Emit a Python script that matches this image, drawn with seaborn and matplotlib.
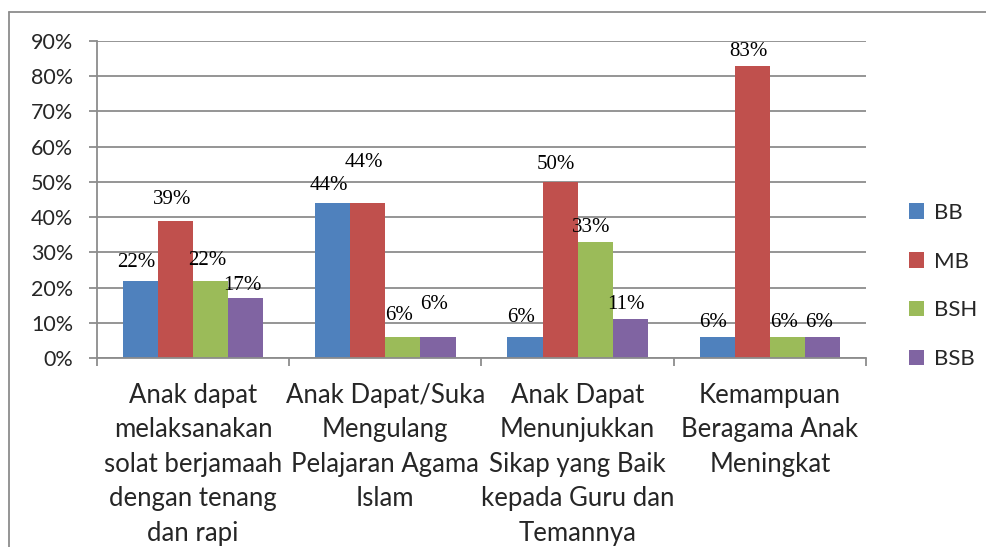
import matplotlib
matplotlib.use("Agg")
import matplotlib.pyplot as plt
import seaborn as sns
import pandas as pd
from matplotlib.patches import Patch
from matplotlib.lines import Line2D

categories = [
    "Anak dapat\nmelaksanakan\nsolat berjamaah\ndengan tenang\ndan rapi",
    "Anak Dapat/Suka\nMengulang\nPelajaran Agama\nIslam",
    "Anak Dapat\nMenunjukkan\nSikap yang Baik\nkepada Guru dan\nTemannya",
    "Kemampuan\nBeragama Anak\nMeningkat",
]
series = ["BB", "MB", "BSH", "BSB"]
BB = [22, 44, 6, 6]
MB = [39, 44, 50, 83]
BSH = [22, 6, 33, 6]
BSB = [17, 6, 11, 6]
yticks = [0, 10, 20, 30, 40, 50, 60, 70, 80, 90]

colors = ["#4F81BD", "#C0504D", "#9BBB59", "#8064A2"]
# label offsets above bar top (px), per series then category
label_offsets = {
    "BB": [18, 18, 19, 14],
    "MB": [21, 41, 17, 14],
    "BSH": [20, 21, 14, 14],
    "BSB": [13, 32, 15, 14],
}

values = {"BB": BB, "MB": MB, "BSH": BSH, "BSB": BSB}
rows = []
for s in series:
    for c, v in zip(categories, values[s]):
        rows.append({"cat": c, "series": s, "val": v})
df = pd.DataFrame(rows)

sns.set_theme(style="white")
plt.rcParams["font.family"] = ["Lato", "DejaVu Sans"]

W, H = 987, 547
fig = plt.figure(figsize=(W / 100, H / 100), dpi=100)
ax = fig.add_axes([97 / W, 1 - 358 / H, (866 - 97) / W, (358 - 41) / H])

sns.barplot(data=df, x="cat", y="val", hue="series", palette=colors,
            order=categories, hue_order=series, width=0.73, linewidth=0,
            ax=ax, legend=False, saturation=1)

ax.set_ylim(0, 90)
ax.set_xlim(-0.5, 3.5)
ax.set_yticks(yticks)
ax.set_yticklabels([f"{t}%" for t in yticks], fontsize=15.5)
ax.yaxis.grid(True, color="#8C8C8C", linewidth=1.3)
ax.set_axisbelow(True)
ax.set_xlabel("")
ax.set_ylabel("")
for s in ["top", "right"]:
    ax.spines[s].set_visible(False)
for s in ["left", "bottom"]:
    ax.spines[s].set_color("#8C8C8C")
    ax.spines[s].set_linewidth(1.3)
ax.tick_params(axis="y", length=6, width=1.3, color="#8C8C8C", pad=11, left=True)
ax.set_xticks(range(4))
ax.set_xticklabels(categories, fontsize=18.5, linespacing=1.47)
ax.set_xticks([-0.5, 0.5, 1.5, 2.5, 3.5], minor=True)
ax.tick_params(axis="x", which="major", length=0, pad=18)
ax.tick_params(axis="x", which="minor", length=6, width=1.3, color="#8C8C8C", bottom=True)

# data labels
px_per_unit = (358 - 41) / 90.0
for cont, s in zip(ax.containers, series):
    for i, (bar, v) in enumerate(zip(cont, values[s])):
        off = label_offsets[s][i] / px_per_unit
        ax.text(bar.get_x() + bar.get_width() / 2 - 0.02, v + off, f"{v}%",
                ha="center", va="center", fontsize=15,
                family=["Liberation Serif", "DejaVu Serif"], color="#000000")

handles = [Patch(facecolor=c, edgecolor="none") for c in colors]
fig.legend(handles, series, loc="center left", bbox_to_anchor=(900 / W, 1 - 286 / H),
           frameon=False, fontsize=16, handlelength=0.7, handleheight=0.7,
           handletextpad=0.45, labelspacing=1.3, borderaxespad=0)

# chart border
fig.add_artist(Line2D([9 / W, 9 / W], [0, 1 - 12 / H], color="#8C8C8C", linewidth=1.3))
fig.add_artist(Line2D([9 / W, 1], [1 - 12 / H, 1 - 12 / H], color="#8C8C8C", linewidth=1.3))

fig.savefig("out.png", dpi=100)
